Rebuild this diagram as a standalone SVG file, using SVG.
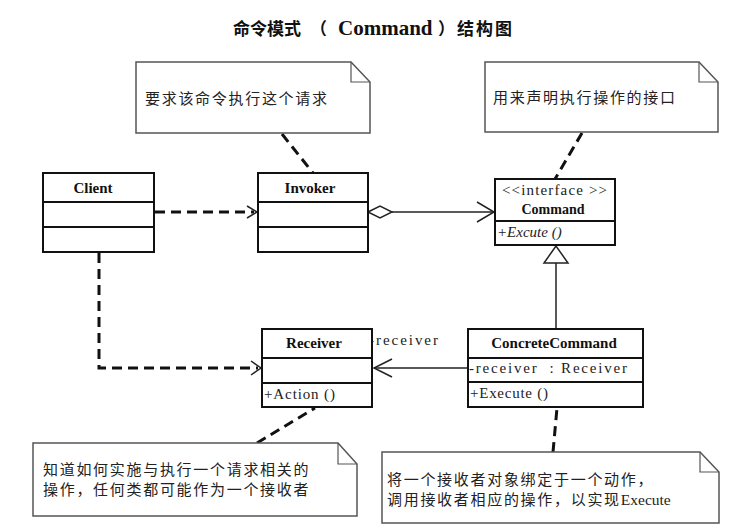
<svg xmlns="http://www.w3.org/2000/svg" width="734" height="531" viewBox="0 0 734 531">
<style>
.box{fill:#fff;stroke:#111;stroke-width:2}
.div{stroke:#111;stroke-width:1.8}
.note{fill:#fff;stroke:#555;stroke-width:1.5}
.fold{fill:none;stroke:#555;stroke-width:1.2}
.cls{font-family:"Liberation Serif",serif;font-weight:bold;font-size:15px;fill:#111;text-anchor:middle}
.mem{font-family:"Liberation Serif",serif;font-size:15px;fill:#222}
.cn{font-family:"Noto Sans CJK SC",sans-serif;font-size:15px;letter-spacing:1.7px;fill:#222}
.lat{font-family:"Liberation Serif",serif;font-size:15.5px;letter-spacing:0}
.dash{fill:none;stroke:#111;stroke-width:3;stroke-dasharray:10 6}
.solid{fill:none;stroke:#222;stroke-width:1.5}
.head{fill:none;stroke:#222;stroke-width:1.5}
.tt{font-family:"Noto Sans CJK SC",sans-serif;font-weight:bold;font-size:17px;fill:#111}
</style>
<rect width="734" height="531" fill="#fff"/>
<g id="title">
<text class="tt" y="35"><tspan x="233">命令模式</tspan><tspan x="310">（</tspan><tspan x="338" style="font-family:'Liberation Serif',serif;font-size:21px">Command</tspan><tspan x="438">）</tspan><tspan x="457" style="letter-spacing:2px">结构图</tspan></text>
</g>
<g id="connectors">
<line class="dash" x1="282" y1="134" x2="313" y2="173"/>
<line class="dash" x1="582" y1="133" x2="555" y2="179"/>
<line class="dash" x1="257" y1="443" x2="315" y2="408"/>
<line class="dash" x1="553" y1="452" x2="557" y2="408"/>
<line class="dash" x1="155" y1="212" x2="254" y2="212"/>
<polyline class="head" points="247,206 257,212 247,218"/>
<polyline class="dash" points="99,253 99,368 258,368"/>
<polyline class="head" points="251,361 261,368 251,375"/>
<polygon points="368,212 380,206 392,212 380,218" fill="#fff" stroke="#222" stroke-width="1.5"/>
<line class="solid" x1="392" y1="212" x2="494" y2="212"/>
<polyline class="head" points="477,202 494,212 477,222"/>
<line class="solid" x1="556" y1="329" x2="556" y2="263"/>
<polygon points="556,246 544,263 568,263" fill="#fff" stroke="#222" stroke-width="1.5"/>
<line class="solid" x1="467" y1="368" x2="374" y2="368"/>
<polyline class="head" points="392,359 374,368 392,377"/>
<text class="mem" x="369" y="345" textLength="69">-receiver</text>
</g>
<g id="note1">
<path class="note" d="M136,62 H351 L370,82 V133 H136 Z"/>
<path class="fold" d="M351,62 V82 H370"/>
<text class="cn" x="145" y="104">要求该命令执行这个请求</text>
</g>
<g id="note2">
<path class="note" d="M485,62 H699 L718,82 V132 H485 Z"/>
<path class="fold" d="M699,62 V82 H718"/>
<text class="cn" x="493" y="103">用来声明执行操作的接口</text>
</g>
<g id="note3">
<path class="note" d="M33,443 H338 L357,464 V516 H33 Z"/>
<path class="fold" d="M338,443 V464 H357"/>
<text class="cn" x="43" y="475">知道如何实施与执行一个请求相关的</text>
<text class="cn" x="43" y="495">操作，任何类都可能作为一个接收者</text>
</g>
<g id="note4">
<path class="note" d="M382,452 H700 L719,472 V523 H382 Z"/>
<path class="fold" d="M700,452 V472 H719"/>
<text class="cn" x="387" y="485">将一个接收者对象绑定于一个动作，</text>
<text class="cn" x="387" y="505">调用接收者相应的操作，以实现<tspan class="lat">Execute</tspan></text>
</g>
<g id="client">
<rect class="box" x="43" y="173" width="111" height="79"/>
<line class="div" x1="43" y1="202" x2="154" y2="202"/>
<line class="div" x1="43" y1="227" x2="154" y2="227"/>
<text class="cls" x="93" y="193">Client</text>
</g>
<g id="invoker">
<rect class="box" x="258" y="173" width="110" height="79"/>
<line class="div" x1="258" y1="202" x2="368" y2="202"/>
<line class="div" x1="258" y1="227" x2="368" y2="227"/>
<text class="cls" x="310" y="193">Invoker</text>
</g>
<g id="command">
<rect class="box" x="495" y="179" width="120" height="66"/>
<line class="div" x1="495" y1="221" x2="615" y2="221"/>
<text class="mem" x="502" y="195" textLength="105">&lt;&lt;interface &gt;&gt;</text>
<text class="cls" x="553" y="214" style="font-size:14px">Command</text>
<text class="mem" x="497" y="237" style="font-style:italic">+Excute ()</text>
</g>
<g id="receiver">
<rect class="box" x="262" y="329" width="110" height="78"/>
<line class="div" x1="262" y1="358" x2="372" y2="358"/>
<line class="div" x1="262" y1="383" x2="372" y2="383"/>
<text class="cls" x="314" y="348">Receiver</text>
<text class="mem" x="264" y="399" textLength="71">+Action ()</text>
</g>
<g id="concretecommand">
<rect class="box" x="468" y="329" width="175" height="78"/>
<line class="div" x1="468" y1="358" x2="643" y2="358"/>
<line class="div" x1="468" y1="382" x2="643" y2="382"/>
<text class="cls" x="554" y="348">ConcreteCommand</text>
<text class="mem" x="469" y="373" textLength="158" xml:space="preserve">-receiver  : Receiver</text>
<text class="mem" x="470" y="398" textLength="78">+Execute ()</text>
</g>
</svg>
